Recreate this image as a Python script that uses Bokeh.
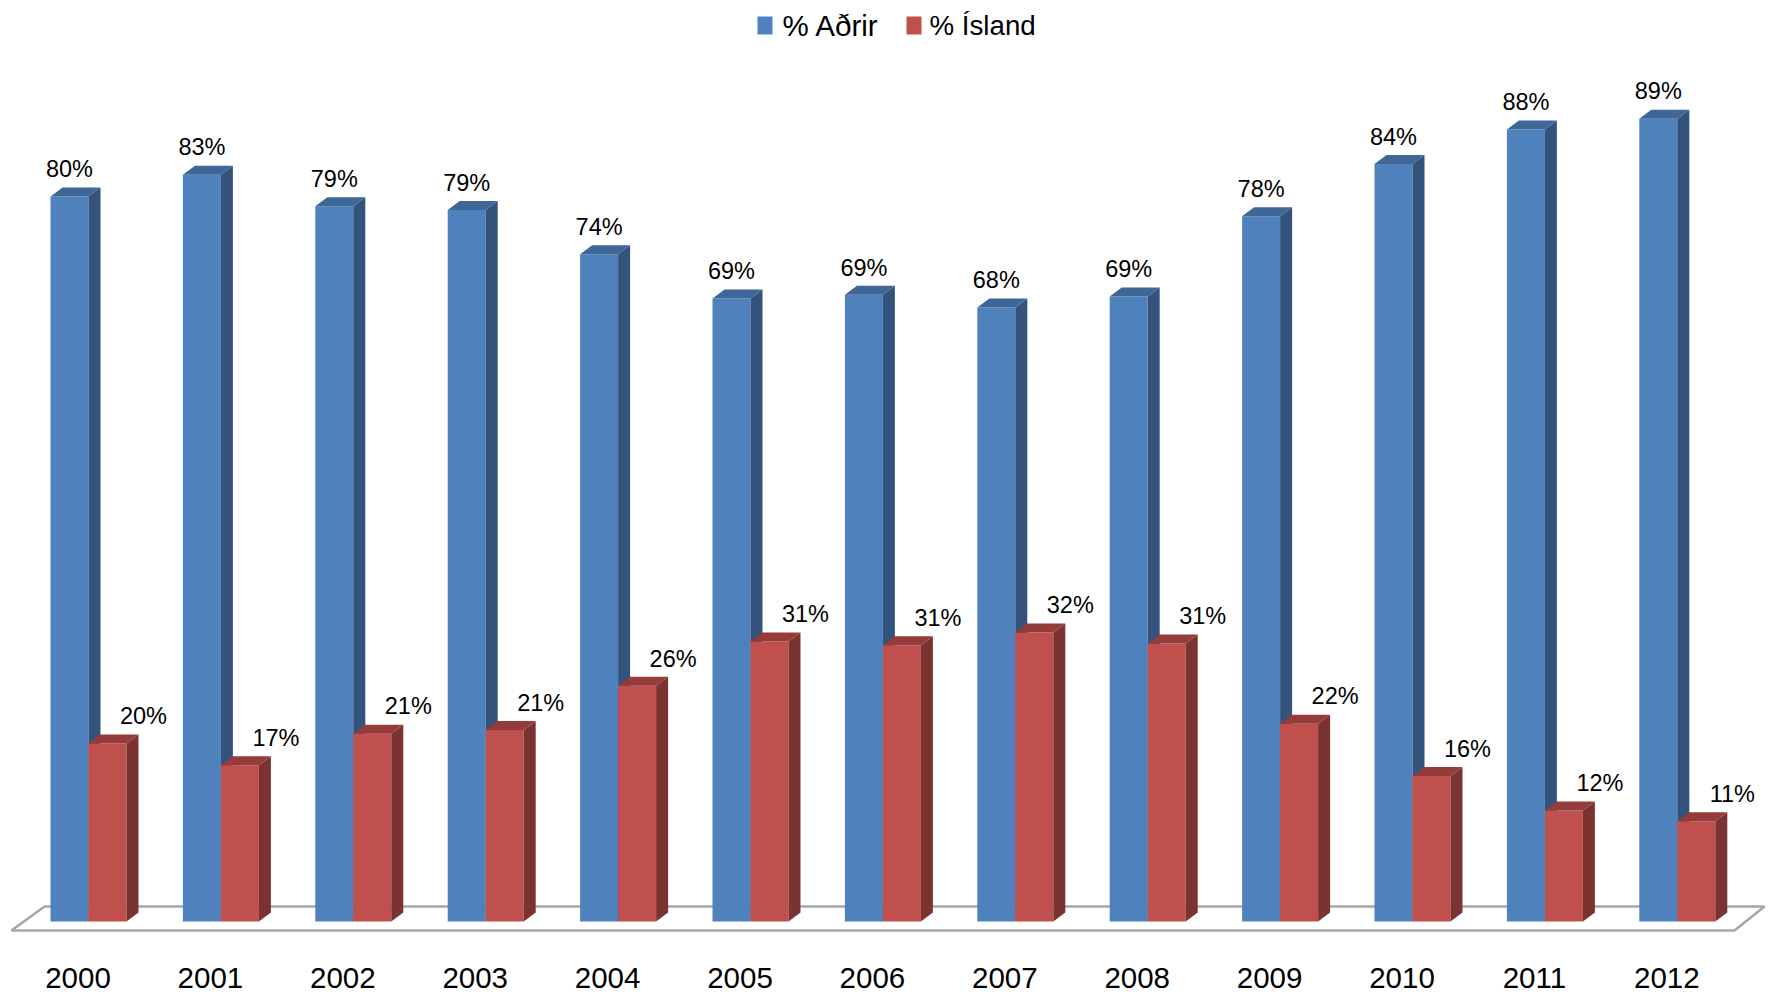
import numpy as np
from bokeh.plotting import figure
from bokeh.models import Range1d
from bokeh.core.properties import value
from bokeh.embed import file_html
from bokeh.resources import INLINE

# ---------------- data ----------------
years = ["2000", "2001", "2002", "2003", "2004", "2005", "2006",
         "2007", "2008", "2009", "2010", "2011", "2012"]
adrir = [80.3, 82.7, 79.2, 78.8, 73.9, 69.0, 69.4, 68.0, 69.2, 78.1, 83.9, 87.7, 88.9]
island = [19.7, 17.3, 20.8, 21.2, 26.1, 31.0, 30.6, 32.0, 30.8, 21.9, 16.1, 12.3, 11.1]
series_names = ["% Aðrir", "% Ísland"]

# ---------------- layout constants (screen pixels) ----------------
W, H = 1772, 995
X0, DX = 88.0, 132.4        # x of first category centre, px per category
Y0, SY = 921.0, 9.03        # y of 0 %, px per percent
BASE_FIX = 0.31             # alphabetic-baseline correction (fraction of font size)


def px2x(px):
    return (px - X0) / DX


def py2y(py):
    return (Y0 - py) / SY


FONT = value("Liberation Sans")
BLUE, BLUE_SIDE, BLUE_TOP = "#4f81bd", "#33537d", "#3e6797"
RED, RED_SIDE, RED_TOP = "#c0504d", "#7b3331", "#953c3a"

p = figure(width=W, height=H, output_backend="svg", toolbar_location=None,
           x_range=Range1d(px2x(0), px2x(W)),
           y_range=Range1d(py2y(H), py2y(0)),
           x_axis_location=None, y_axis_location=None, min_border=0,
           outline_line_color=None, background_fill_color="white",
           border_fill_color="white")
p.grid.visible = False

# ---------------- floor ----------------
fx = [px2x(11), px2x(1734), px2x(1764), px2x(44)]
fy = [py2y(930), py2y(930), py2y(906), py2y(906)]
p.patch(fx, fy, fill_color="white", line_color="#a6a6a6", line_width=2.5)

# ---------------- 3D bars ----------------
idx = np.arange(len(years), dtype=float)
bw = 38.0 / DX
ddx = 12.0 / DX
ddy = 9.0 / SY


def bar3d(left, right, top, front, side, topc):
    p.quad(left=left, right=right, bottom=0, top=top,
           fill_color=front, line_color=None)
    sx = [[r, r + ddx, r + ddx, r] for r in right]
    sy = [[0, ddy, t + ddy, t] for t in top]
    p.patches(sx, sy, fill_color=side, line_color=None)
    tx = [[l, l + ddx, r + ddx, r] for l, r in zip(left, right)]
    ty = [[t, t + ddy, t + ddy, t] for t in top]
    p.patches(tx, ty, fill_color=topc, line_color=None)


bar3d(idx - bw, idx, np.array(adrir), BLUE, BLUE_SIDE, BLUE_TOP)
bar3d(idx, idx + bw, np.array(island), RED, RED_SIDE, RED_TOP)

# ---------------- data labels ----------------
LBL = 23.5
p.text(x=idx - bw / 2, y=adrir, text=[f"{v:.0f}%" for v in adrir],
       text_align="center", text_baseline="alphabetic",
       y_offset=-20 - BASE_FIX * LBL,
       text_font=FONT, text_font_size=value(f"{LBL}px"), text_color="black")
p.text(x=idx + bw / 2, y=island, text=[f"{v:.0f}%" for v in island],
       text_align="center", text_baseline="alphabetic",
       x_offset=36, y_offset=-20 - BASE_FIX * LBL,
       text_font=FONT, text_font_size=value(f"{LBL}px"), text_color="black")

# ---------------- category labels ----------------
CAT = 29.5
p.text(x=idx, y=[py2y(987)] * len(years), text=years, x_offset=-10.5,
       y_offset=-BASE_FIX * CAT,
       text_align="center", text_baseline="alphabetic",
       text_font=FONT, text_font_size=value(f"{CAT}px"), text_color="black")

# ---------------- legend ----------------
key_left = [757, 906]
text_left = [782, 929]
text_size = [29.5, 27.7]
for name, kl, tl, ts, col in zip(series_names, key_left, text_left, text_size, [BLUE, RED]):
    p.quad(left=[px2x(kl)], right=[px2x(kl + 15)], top=[py2y(16)], bottom=[py2y(34)],
           fill_color=col, line_color=None)
    p.text(x=[px2x(tl)], y=[py2y(34)], text=[name], text_align="left",
           text_baseline="alphabetic", y_offset=-BASE_FIX * ts, text_font=FONT,
           text_font_size=value(f"{ts}px"), text_color="black")

open("out.html", "w").write(file_html(p, INLINE))
